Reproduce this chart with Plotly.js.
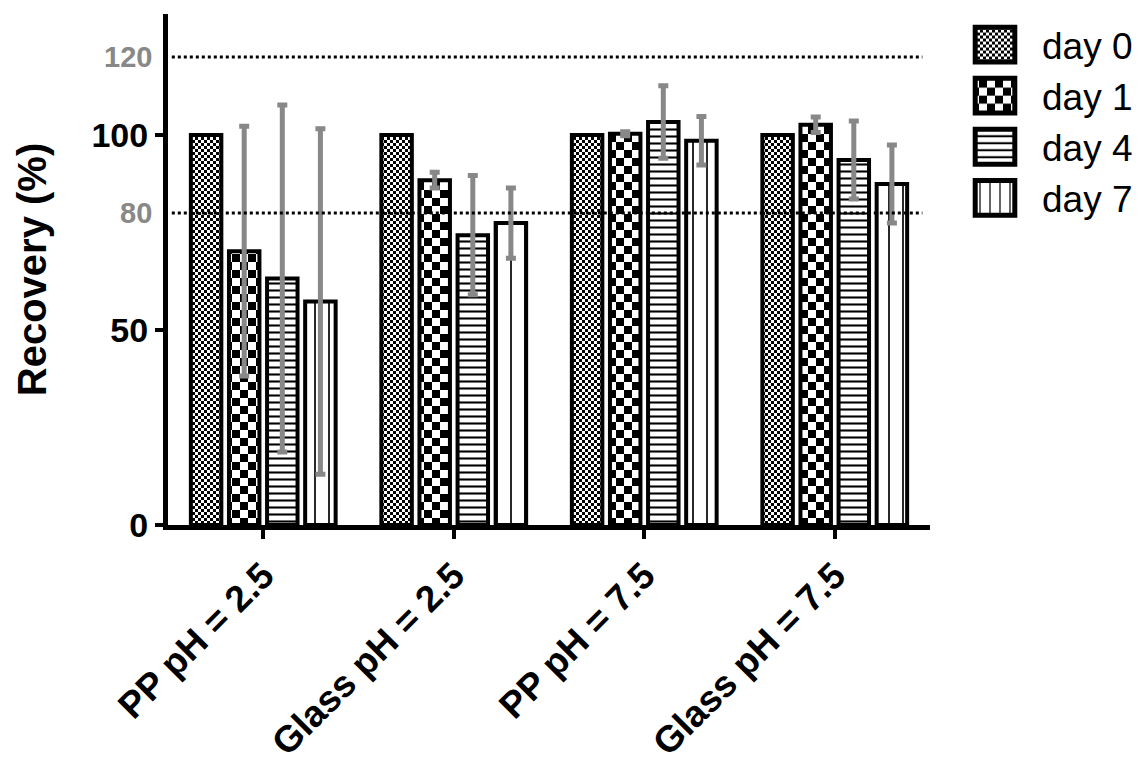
<!DOCTYPE html>
<html><head><meta charset="utf-8">
<script src="https://cdn.plot.ly/plotly-3.0.1.min.js"></script>
<style>
body{margin:0;background:#fff}
#chart{width:1143px;height:769px}
</style>
</head><body><div id="chart"></div>
<script>
const categories = ["PP pH = 2.5", "Glass pH = 2.5", "PP pH = 7.5", "Glass pH = 7.5"];
const seriesNames = ["day 0", "day 1", "day 4", "day 7"];
const day0 = [100, 100, 100, 100];
const day1 = [70.2, 88.4, 100.3, 102.6];
const day4 = [63.2, 74.3, 103.3, 93.6];
const day7 = [57.3, 77.4, 98.5, 87.4];
const err0 = [0, 0, 0, 0];
const err1 = [32, 2, 0.5, 2];
const err4 = [44.5, 15.3, 9.3, 10];
const err7 = [44.3, 9, 6.2, 10];
const refLines = [80, 120];
const yTicks = [0, 50, 100];

const values = [day0, day1, day4, day7];
const errs = [err0, err1, err4, err7];
// day 0 ("x") and day 1 (".") are placeholders; their tiles are turned into checkerboards after drawing
const patterns = [
  {shape: "x", size: 6, solidity: 0.5, fgcolor: "#000", bgcolor: "#fff"},
  {shape: ".", size: 16, solidity: 0.5, fgcolor: "#000", bgcolor: "#fff"},
  {shape: "-", size: 7, solidity: 0.3, fgcolor: "#000", bgcolor: "#fff"},
  {shape: "|", size: 14, solidity: 0.12, fgcolor: "#000", bgcolor: "#fff"}
];
const checkerTiles = [6, 16];
const traces = values.map((v, i) => ({
  type: "bar", name: seriesNames[i], x: categories, y: v,
  marker: {color: "#fff", line: {color: "#000", width: 4}, pattern: patterns[i]},
  error_y: {type: "data", array: errs[i], visible: i > 0, color: "#888", thickness: 5, width: 5}
}));

const font = "Liberation Sans, Arial, sans-serif";
const shapes = refLines.map(r => ({type: "line", xref: "paper", x0: 0.005, x1: 0.99, yref: "y", y0: r, y1: r,
  line: {color: "#000", width: 3, dash: "dot"}}));
const annotations = refLines.map(r => ({xref: "paper", x: 0, xanchor: "right", xshift: -14, yref: "y", y: r,
  text: "<b>" + r + "</b>", showarrow: false, font: {family: font, size: 29, color: "#888"}}));

const layout = {
  width: 1143, height: 769,
  margin: {l: 168, r: 213, t: 14, b: 244, autoexpand: false},
  paper_bgcolor: "#fff", plot_bgcolor: "#fff",
  barmode: "group", bargap: 0.2, bargroupgap: 0.2,
  font: {family: font, color: "#000"},
  showlegend: true,
  legend: {x: 1 + 18 / (1143 - 168 - 213), xanchor: "left", y: 1.0, yanchor: "top",
    font: {family: font, size: 37, color: "#000"}, tracegroupgap: 0, itemwidth: 84, bgcolor: "rgba(0,0,0,0)"},
  xaxis: {showline: true, linewidth: 5, linecolor: "#000", ticks: "outside", ticklen: 9, tickwidth: 4, tickcolor: "#000",
    tickangle: -45, tickfont: {family: font, size: 37, color: "#000", weight: "bold"}, showgrid: false, zeroline: false,
    automargin: false},
  yaxis: {range: [0, 131], showline: true, linewidth: 5, linecolor: "#000", ticks: "outside", ticklen: 8, tickwidth: 4,
    tickcolor: "#000", tickvals: yTicks, ticktext: yTicks.map(t => "<b>" + t + "</b>"),
    tickfont: {family: font, size: 34, color: "#000"}, showgrid: false, zeroline: false, automargin: false,
    title: {text: "<b>Recovery (%)</b>", font: {family: font, size: 40, color: "#000"}, standoff: 34}},
  shapes: shapes, annotations: annotations
};

const NS = "http://www.w3.org/2000/svg";
function checker(pat, s) {
  while (pat.firstChild) pat.removeChild(pat.firstChild);
  pat.setAttribute("width", s); pat.setAttribute("height", s);
  pat.removeAttribute("patternTransform");
  const add = (x, y, w, h, c) => {
    const r = document.createElementNS(NS, "rect");
    r.setAttribute("x", x); r.setAttribute("y", y); r.setAttribute("width", w); r.setAttribute("height", h);
    r.setAttribute("fill", c); pat.appendChild(r);
  };
  add(0, 0, s, s, "#fff");
  add(0, 0, s / 2, s / 2, "#000");
  add(s / 2, s / 2, s / 2, s / 2, "#000");
}
const SX = 3.3, SY = 2.9;
Plotly.newPlot("chart", traces, layout, {displayModeBar: false, staticPlot: true}).then(gd => {
  gd.querySelectorAll("pattern").forEach(p => {
    if (p.querySelector("circle")) { checker(p, checkerTiles[1]); return; }
    const path = p.querySelector("path");
    const d = path ? (path.getAttribute("d") || "") : "";
    if ((d.match(/M/g) || []).length >= 2) checker(p, checkerTiles[0]);
  });
  let n = 0;
  gd.querySelectorAll(".legend .legendpoints path").forEach(p => {
    const t = p.getAttribute("transform") || "";
    p.setAttribute("transform", t + " scale(" + SX + "," + SY + ")");
    p.setAttribute("vector-effect", "non-scaling-stroke");
    p.style.strokeWidth = "5px";
    const m = (p.style.fill || "").match(/url\(["']?#([^"')]+)["']?\)/);
    if (m) {
      const src = document.getElementById(m[1]);
      if (src) {
        const c = src.cloneNode(true);
        const id = "legpat" + (n++);
        c.setAttribute("id", id);
        c.setAttribute("patternTransform", "scale(" + (1 / SX) + "," + (1 / SY) + ")");
        src.parentNode.appendChild(c);
        p.style.fill = "url(#" + id + ")";
      }
    }
  });
});
</script></body></html>
